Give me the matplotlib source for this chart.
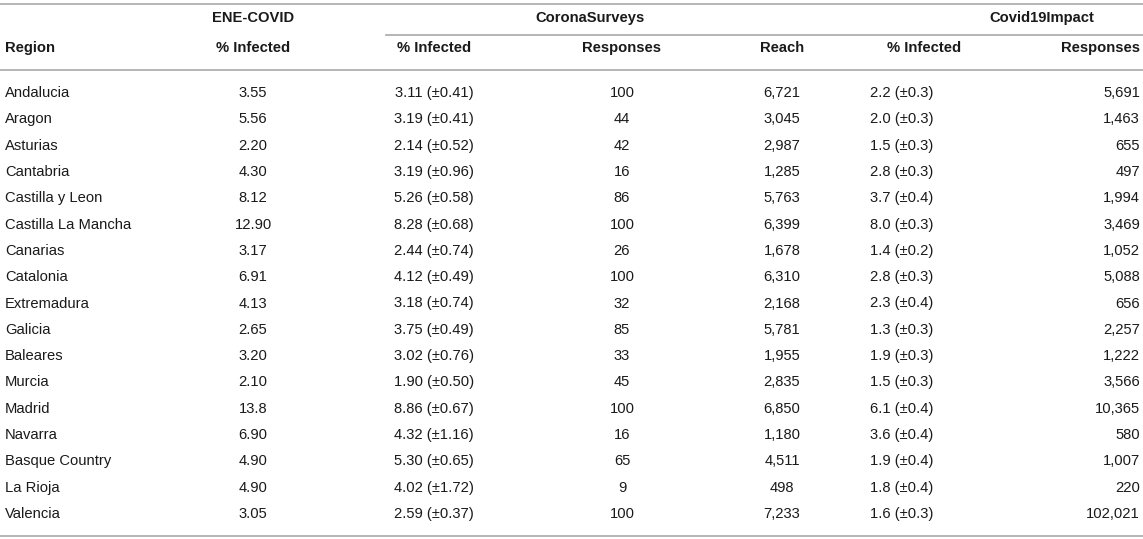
"""Table: regional infection estimates, ENE-COVID vs CoronaSurveys vs Covid19Impact.

Output: out.png
"""
import matplotlib.pyplot as plt
from matplotlib.lines import Line2D

W, H = 1143, 539
TEXT = "#1a1a1a"
RULE = "#b0b0b0"
FONT = "Liberation Sans"
FS = 10.6

regions = ["Andalucia", "Aragon", "Asturias", "Cantabria", "Castilla y Leon",
           "Castilla La Mancha", "Canarias", "Catalonia", "Extremadura", "Galicia",
           "Baleares", "Murcia", "Madrid", "Navarra", "Basque Country", "La Rioja",
           "Valencia"]
ene_infected = ["3.55", "5.56", "2.20", "4.30", "8.12", "12.90", "3.17", "6.91", "4.13",
                "2.65", "3.20", "2.10", "13.8", "6.90", "4.90", "4.90", "3.05"]
cs_infected = [3.11, 3.19, 2.14, 3.19, 5.26, 8.28, 2.44, 4.12, 3.18, 3.75, 3.02, 1.90,
               8.86, 4.32, 5.30, 4.02, 2.59]
cs_error = [0.41, 0.41, 0.52, 0.96, 0.58, 0.68, 0.74, 0.49, 0.74, 0.49, 0.76, 0.50,
            0.67, 1.16, 0.65, 1.72, 0.37]
cs_responses = [100, 44, 42, 16, 86, 100, 26, 100, 32, 85, 33, 45, 100, 16, 65, 9, 100]
cs_reach = [6721, 3045, 2987, 1285, 5763, 6399, 1678, 6310, 2168, 5781, 1955, 2835,
            6850, 1180, 4511, 498, 7233]
c19_infected = [2.2, 2.0, 1.5, 2.8, 3.7, 8.0, 1.4, 2.8, 2.3, 1.3, 1.9, 1.5, 6.1, 3.6,
                1.9, 1.8, 1.6]
c19_error = [0.3, 0.3, 0.3, 0.3, 0.4, 0.3, 0.2, 0.3, 0.4, 0.3, 0.3, 0.3, 0.4, 0.4, 0.4,
             0.4, 0.3]
c19_responses = [5691, 1463, 655, 497, 1994, 3469, 1052, 5088, 656, 2257, 1222, 3566,
                 10365, 580, 1007, 220, 102021]


def put(fig, x, y, s, ha="center", bold=False):
    fig.text(x / W, 1 - y / H, s, ha=ha, va="center", fontsize=FS, family=FONT,
             fontweight="bold" if bold else "normal", color=TEXT)


def rule(fig, x0, x1, y):
    fig.add_artist(Line2D([x0 / W, x1 / W], [1 - y / H, 1 - y / H],
                          color=RULE, linewidth=1.3, transform=fig.transFigure))


def main():
    fig = plt.figure(figsize=(W / 100, H / 100), dpi=100)
    fig.patch.set_facecolor("white")

    # column anchors (pixels)
    x_region = 5
    x_ene = 253
    x_cs_inf, x_cs_resp, x_cs_reach = 434, 622, 782
    x_c19_inf_head, x_c19_inf = 924, 902
    x_c19_resp = 1140

    # rules
    rule(fig, 0, W, 4)
    rule(fig, 386, W, 35)
    rule(fig, 0, W, 70)
    rule(fig, 0, W, 536)

    # group headers
    put(fig, x_ene, 18, "ENE-COVID", bold=True)
    put(fig, 590, 18, "CoronaSurveys", bold=True)
    put(fig, 1042, 18, "Covid19Impact", bold=True)

    # column headers
    y_h = 48
    put(fig, x_region, y_h, "Region", ha="left", bold=True)
    put(fig, x_ene, y_h, "% Infected", bold=True)
    put(fig, x_cs_inf, y_h, "% Infected", bold=True)
    put(fig, x_cs_resp, y_h, "Responses", bold=True)
    put(fig, x_cs_reach, y_h, "Reach", bold=True)
    put(fig, x_c19_inf_head, y_h, "% Infected", bold=True)
    put(fig, x_c19_resp, y_h, "Responses", ha="right", bold=True)

    # body rows
    y0, dy = 93, (514 - 93) / 16
    for i, reg in enumerate(regions):
        y = y0 + i * dy
        put(fig, x_region, y, reg, ha="left")
        put(fig, x_ene, y, ene_infected[i])
        put(fig, x_cs_inf, y, f"{cs_infected[i]:.2f} (\u00b1{cs_error[i]:.2f})")
        put(fig, x_cs_resp, y, str(cs_responses[i]))
        put(fig, x_cs_reach, y, f"{cs_reach[i]:,}")
        put(fig, x_c19_inf, y, f"{c19_infected[i]:.1f} (\u00b1{c19_error[i]:.1f})")
        put(fig, x_c19_resp, y, f"{c19_responses[i]:,}", ha="right")

    fig.savefig("out.png", dpi=100, facecolor="white")
    plt.close(fig)


if __name__ == "__main__":
    main()
